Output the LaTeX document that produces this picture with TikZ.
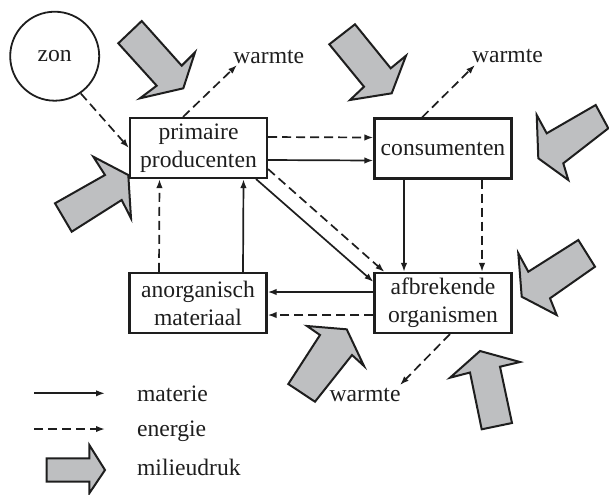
\documentclass[tikz,border=0pt]{standalone}
\usepackage{fontspec}
\setmainfont{Liberation Serif}
\usetikzlibrary{arrows.meta,calc}
\definecolor{drukgray}{RGB}{190,191,193}
\definecolor{ink}{RGB}{30,30,30}
\begin{document}
\begin{tikzpicture}[x=0.5pt,y=-0.5pt,
  txt/.style={font=\fontsize{11.8}{14}\selectfont, text=ink},
  box/.style={draw=ink, line width=1.05pt, minimum width=68.5pt, minimum height=30pt, inner sep=0pt, align=center, txt},
  lbl/.style={txt, inner sep=0pt, anchor=base west},
  mat/.style={draw=ink, line width=0.85pt, -{Latex[length=4.5pt,width=3.2pt]}},
  en/.style={mat, dash pattern=on 4.5pt off 2.5pt},
  druk/.style={fill=drukgray, draw=ink, line width=1pt, line join=miter}
]
\useasboundingbox (0,0) rectangle (609,494);

% nodes
\node[circle, draw=ink, line width=0.9pt, minimum size=44.5pt, inner sep=0pt, txt] (zon) at (54.7,56.2) {zon};
\node[box] (prim) at (198.5,148) {primaire\\producenten};
\node[box] (con) at (443,148.5) {consumenten};
\node[box] (anorg) at (198,303) {anorganisch\\materiaal};
\node[box] (afb) at (443,303) {afbrekende\\organismen};
\node[lbl] (w1) at (233,63) {warmte};
\node[lbl] (w2) at (471.7,62.7) {warmte};
\node[lbl] (w3) at (329.3,401.7) {warmte};

% connectors
\draw[en] (zon.-55) -- (prim.west);
\draw[en] ($(prim.north)+(-15.5,0)$) -- ($(w1.base west)+(4,2)$);
\draw[en] ($(con.north)+(-21,0)$) -- ($(w2.base west)+(3.3,2.3)$);
\draw[en] ($(afb.south)+(7,0)$) -- ($(w3.base west)+(70.7,-16.7)$);

\draw[en] ([yshift=5.5pt]prim.east) -- ([yshift=5.5pt]con.west);
\draw[mat] ([yshift=-6pt]prim.east) -- ([yshift=-6pt]con.west);

\draw[mat] ([xshift=-19.5pt]con.south) -- ([xshift=-19.5pt]afb.north);
\draw[en] ([xshift=19.5pt]con.south) -- ([xshift=19.5pt]afb.north);

\draw[mat] ($(prim.south east)+(-12,0)$) -- ($(afb.north west)+(0,10)$);
\draw[en] ($(prim.south east)+(0,-10)$) -- ($(afb.north west)+(11,0)$);

\draw[mat] ([yshift=5.5pt]afb.west) -- ([yshift=5.5pt]anorg.east);
\draw[en] ([yshift=-6pt]afb.west) -- ([yshift=-6pt]anorg.east);

\draw[en] ([xshift=-19.5pt]anorg.north) -- ([xshift=-19.5pt]prim.south);
\draw[mat] ([xshift=22.5pt]anorg.north) -- ([xshift=22.5pt]prim.south);

% milieudruk arrows
\draw[druk] (118.3,43.3) -- (141.7,21) -- (181.7,65.7) -- (195,52.3) -- (183.3,88.3) -- (140,98.3) -- (156.7,85.7) -- cycle;
\draw[druk] (55,203.3) -- (105,175) -- (93.3,156.7) -- (128.3,175) -- (131,218.3) -- (121.7,200) -- (71.7,231.7) -- cycle;
\draw[druk] (329.3,44.3) -- (355,24.3) -- (390.7,68.3) -- (406,55.7) -- (391.7,93.3) -- (350,100) -- (364,86.7) -- cycle;
\draw[druk] (595.7,105) -- (546.7,133.3) -- (536.7,115) -- (538.3,158.3) -- (568.3,180) -- (563.3,163.3) -- (608.3,128.3) -- cycle;
\draw[druk] (578.3,240) -- (528.3,271.7) -- (518.3,253.3) -- (521.7,296.7) -- (556.7,315) -- (550,298.3) -- (595,266.7) -- cycle;
\draw[druk] (288.3,384) -- (320,335) -- (307,326) -- (346.7,329.3) -- (364,366) -- (352,355) -- (315,401.7) -- cycle;
\draw[druk] (450,377.7) -- (480,351) -- (520,362) -- (500,366.7) -- (512,423) -- (481.7,429.3) -- (470,372.5) -- cycle;

% legend
\coordinate (ls1) at (34,393.3);
\coordinate (le1) at (105,393.3);
\coordinate (ls2) at (34,429);
\coordinate (le2) at (105,429);
\draw[mat] (ls1) -- (le1);
\draw[en] (ls2) -- (le2);
\draw[druk] (46.7,458.3) -- (89.3,458.3) -- (89.3,445) -- (105,470) -- (89.3,493.3) -- (89.3,481.7) -- (46.7,481.7) -- cycle;
\node[lbl] (lm) at (136.7,401.7) {materie};
\node[lbl] (le) at (136.7,436.7) {energie};
\node[lbl] (ld) at (136.7,475) {milieudruk};
\end{tikzpicture}
\end{document}
